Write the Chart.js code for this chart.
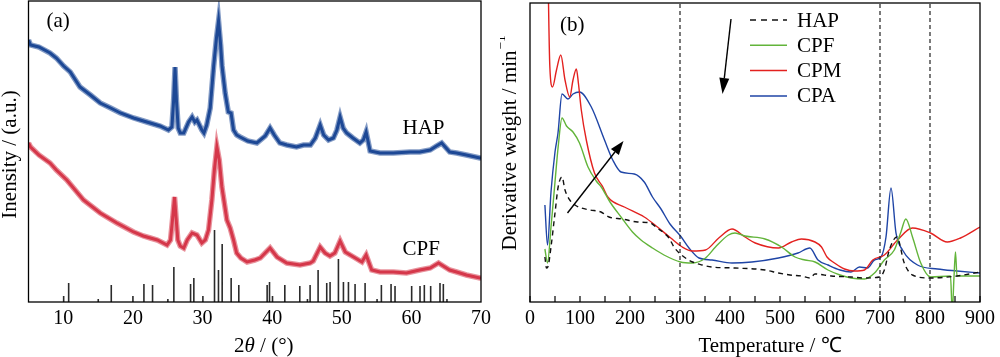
<!DOCTYPE html>
<html><head><meta charset="utf-8">
<script src="https://cdn.jsdelivr.net/npm/chart.js@4.4.0/dist/chart.umd.min.js"></script>
<style>
html,body{margin:0;padding:0;background:#fff;width:1000px;height:357px;overflow:hidden}
#wa{position:absolute;left:0;top:0;width:500px;height:357px}
#wb{position:absolute;left:500px;top:0;width:500px;height:357px}
</style></head><body>
<div id="wa"><canvas id="ca" width="500" height="357"></canvas></div>
<div id="wb"><canvas id="cb" width="500" height="357"></canvas></div>
<script>
// ---------- Panel (a): XRD ----------
const ticksA = [10, 20, 30, 40, 50, 60, 70];
const thetaHAP = [5.0,5.3,6.5,8.1,9.0,10.05,11.0,12.4,13.9,15.3,16.8,18.2,20.1,22.0,23.9,25.1,25.6,25.85,26.05,26.25,26.5,26.8,27.3,28.0,28.5,28.9,29.2,29.9,30.2,30.6,31.1,31.6,32.0,32.3,32.6,32.8,33.25,33.7,34.1,34.45,34.9,35.4,36.5,37.8,39.0,39.7,40.3,41.1,42.1,43.5,44.5,45.5,46.2,46.9,47.4,48.1,48.8,49.3,49.76,50.2,50.7,51.6,52.6,53.1,53.5,54.07,55.5,57.4,59.8,61.2,62.7,63.6,64.35,65.5,66.5,67.9,69.85,70];
const intHAP = [262,257,255,249,244,236,230,215,207,199,194,189,184,180,176,172,175,202,235,202,174,169,169,180,185,180,182,172,169,177,194,236,264,281,257,236,209,190,189,172,167,165,161,159,166,174,167,159,157,155,157,157,164,177,167,162,164,172,185,174,169,164,159,162,170,151,149,149,150,150,152,156,159,150,149,147,144,144];
const thetaCPF = [5.0,5.3,6.5,8.1,9.0,10.5,12.9,15.3,17.7,20.1,21.5,22.5,23.5,24.9,25.4,25.75,25.98,26.2,26.45,26.8,27.3,27.8,28.5,29.2,29.9,30.4,30.86,31.34,31.7,32.06,32.4,32.78,33.5,33.97,34.45,34.9,35.5,36.4,37.5,38.3,39.7,40.7,42.1,44.0,45.45,45.9,46.9,47.6,48.3,49.0,49.76,50.5,51.7,52.9,53.5,54.3,55.5,57.4,59.3,61.2,62.7,63.9,64.35,65.5,66.5,67.9,69.85,70];
const intCPF = [159,155,147,139,132,122,102,89,79,70,66,64,62,57,62,87,105,84,62,56,54,62,69,67,59,62,72,102,132,155,142,115,82,74,62,49,44,40,42,44,54,45,39,37,39,41,55,49,46,49,61,50,45,40,47,32,30,30,29,32,34,39,37,32,30,27,24,24];
const stickPos = [10.05,10.77,15.02,16.89,20.0,21.58,22.82,25.02,25.88,28.28,28.75,30.05,31.72,32.29,32.82,34.11,35.21,39.28,39.62,40.05,41.82,43.97,45.07,45.45,46.60,47.84,48.32,49.52,50.24,50.96,51.91,53.35,55.07,55.69,57.08,57.65,60.04,61.24,61.86,62.77,64.11,64.59,65.11];
const stickH   = [6,19,3,17,6,18,17,3,35,18,24,6,72,32,58,24,17,17,20,6,17,16,3,17,32,19,20,43,20,20,18,19,3,17,18,16,16,16,17,16,19,18,3];

// ---------- Panel (b): DTG ----------
const ticksB = [0,100,200,300,400,500,600,700,800,900];
const minorTicksB = [0,50,100,150,200,250,300,350,400,450,500,550,600,650,700,750,800,850,900];
const refLines = [300, 700, 800];
const seriesNames = ['HAP','CPF','CPM','CPA'];
const tHAP = [29.8,33,36.4,42,50,56.3,64,70,79.5,90,102.6,120,142,158,185,215,241,254,268,278,288,303,325,344,364,410,470,497,520,543,560,570,603,642,669,699,708.7,718.6,733.8,748.5,765,801,854,900];
const dHAP = [45,34,36,55,89,115,125,112,102,97,94,92,90,85,83,80,79,74,69,64,55,47,40,37,35,34,32,29,27,26,24,28,26,25,24,25,32,52,65,39,27,24,26,30];
const tCPF = [29.8,35,42,50,56.3,64,73,86,99,116,132.5,142.5,160,182,205,222,245,268,301,325,351,371,397,410,430,470,503,530,550,570,596,620,642,669,689,708.7,728.6,741.8,751.7,765,781.5,801,841,844.5,848,851,854,900];
const dCPF = [53,39,75,120,155,184,176,170,159,135,121,115,100,85,70,62,54,47,40,39,44,55,67,69,66,63,55,45,42,40,32,27,24,23,29,42,52,70,83,65,39,25,26,-10,25,50,26,26];
const tCPM = [34,36.4,39.7,45,53,61.6,70,79.5,86,92.7,97,102.6,112.6,129,145.7,155.6,188.7,228.5,255,281.5,304.6,325,351,377.5,404,430,450.5,497,523,543,570,583,594,609,629,649,669,685.5,708.7,735,765,801,834.5,861,900];
const dCPM = [420,320,235,215,232,247,222,205,222,233,218,192,162,129,115,105,95,85,75,64,55,51,52,64,73,65,59,54,60,63,60,55,45,39,33,31,32,42,47,62,74,69,60,64,75];
const tCPA = [29.8,35,42,50,56,64,76,86,99,122.6,149,165.5,182,208.6,228.5,245,262,280,301,318,338,364,404,443.7,497,536,559.6,576,596,620,642,659,675,689,702,712,722,732,745,775,815,854,900];
const dCPA = [97,57,110,150,169,208,203,208,210,195,162,142,130,128,120,105,93,78,66,54,44,42,39,40,44,49,54,42,37,32,30,35,34,42,45,65,114,69,52,37,33,31,29];
const arrowUp = [[75,89],[187,161]];
const arrowDown = [[402,283],[385,208]];

const FONT = '"Liberation Serif", "Times New Roman", serif';
Chart.defaults.font.family = FONT;
Chart.defaults.color = '#000';

const xy = (xs, ys) => xs.map((x, i) => ({x: x, y: ys[i]}));

function boxPlugin(w) {
  return { id: 'box', afterDatasetsDraw(chart) {
    const a = chart.chartArea, c = chart.ctx;
    c.save(); c.strokeStyle = '#000'; c.lineWidth = w;
    c.strokeRect(a.left, a.top, a.right - a.left, a.bottom - a.top);
    c.restore();
  }};
}

function drawArrow(c, x1, y1, x2, y2, hl, hw) {
  const ang = Math.atan2(y2 - y1, x2 - x1);
  const bx = x2 - hl * Math.cos(ang), by = y2 - hl * Math.sin(ang);
  c.beginPath(); c.moveTo(x1, y1); c.lineTo(bx, by); c.stroke();
  c.beginPath(); c.moveTo(x2, y2);
  c.lineTo(bx + hw/2 * Math.sin(ang), by - hw/2 * Math.cos(ang));
  c.lineTo(bx - hw/2 * Math.sin(ang), by + hw/2 * Math.cos(ang));
  c.closePath(); c.fill();
}

// ----- chart A -----
const stickData = [];
stickPos.forEach((p, i) => { stickData.push({x: p, y: 0}, {x: p, y: stickH[i]}, {x: p, y: null}); });
const blueA = '#1d4795', redA = '#d5364a';
const lineBase = {type: 'line', pointRadius: 0, fill: false, tension: 0, spanGaps: false};

new Chart(document.getElementById('ca'), {
  type: 'line',
  data: { datasets: [
    Object.assign({}, lineBase, {data: stickData, borderColor: '#2b2b2b', borderWidth: 1.6}),
    Object.assign({}, lineBase, {data: xy(thetaHAP, intHAP), borderColor: 'rgba(30,72,150,0.55)', borderWidth: 5.5}),
    Object.assign({}, lineBase, {data: xy(thetaHAP, intHAP), borderColor: blueA, borderWidth: 3}),
    Object.assign({}, lineBase, {data: xy(thetaCPF, intCPF), borderColor: 'rgba(214,56,74,0.55)', borderWidth: 5.5}),
    Object.assign({}, lineBase, {data: xy(thetaCPF, intCPF), borderColor: redA, borderWidth: 3})
  ]},
  options: {
    responsive: false, animation: false, devicePixelRatio: 1,
    layout: {padding: {left: 0, right: 19, top: 1, bottom: 0}},
    plugins: {legend: {display: false}, tooltip: {enabled: false}},
    scales: {
      x: {type: 'linear', min: 5, max: 70,
          afterBuildTicks: s => { s.ticks = ticksA.map(v => ({value: v})); },
          grid: {display: false, drawTicks: false}, border: {display: false},
          ticks: {font: {size: 20}, padding: 5, maxRotation: 0, autoSkip: false, color: '#000'},
          afterFit: s => { s.height = 55; }},
      y: {type: 'linear', min: 0, max: 301, ticks: {display: false},
          grid: {display: false, drawTicks: false}, border: {display: false},
          afterFit: s => { s.width = 28.5; }}
    }
  },
  plugins: [boxPlugin(1.3), {
    id: 'textA', afterDraw(chart) {
      const c = chart.ctx, a = chart.chartArea;
      c.save(); c.fillStyle = '#000';
      c.font = '21px ' + FONT; c.textBaseline = 'middle'; c.textAlign = 'left';
      c.fillText('(a)', a.left + 18, a.top + 20);
      c.fillText('HAP', a.left + 374, a.top + 127);
      c.fillText('CPF', a.left + 374, a.top + 248);
      // y title
      c.save(); c.translate(10.5, (a.top + a.bottom) / 2 + 3); c.rotate(-Math.PI / 2);
      c.textAlign = 'center'; c.fillText('Inensity / (a.u.)', 0, 0); c.restore();
      // x title: 2θ / (°)
      c.textBaseline = 'alphabetic';
      const parts = [['2', '21px ' + FONT], ['\u03B8', 'italic 21px ' + FONT], [' / (\u00B0)', '21px ' + FONT]];
      let tw = 0; parts.forEach(p => { c.font = p[1]; tw += c.measureText(p[0]).width; });
      let x = (a.left + a.right) / 2 + 9 - tw / 2;
      parts.forEach(p => { c.font = p[1]; c.fillText(p[0], x, 352); x += c.measureText(p[0]).width; });
      c.restore();
    }
  }]
});

// ----- chart B -----
const colB = {HAP: '#111111', CPF: '#62b43a', CPM: '#e3211f', CPA: '#1f45a6'};
const curveBase = {type: 'line', pointRadius: 0, fill: false, cubicInterpolationMode: 'monotone', borderWidth: 1.4};
const dsB = [];
refLines.forEach(v => dsB.push({type: 'line', pointRadius: 0, fill: false, data: [{x: v, y: 0}, {x: v, y: 299}], borderColor: '#222', borderWidth: 1.2, borderDash: [4, 3]}));
dsB.push(Object.assign({}, curveBase, {label: 'HAP', data: xy(tHAP, dHAP), borderColor: colB.HAP, borderDash: [5, 4]}));
dsB.push(Object.assign({}, curveBase, {label: 'CPF', data: xy(tCPF, dCPF), borderColor: colB.CPF}));
dsB.push(Object.assign({}, curveBase, {label: 'CPM', data: xy(tCPM, dCPM), borderColor: colB.CPM}));
dsB.push(Object.assign({}, curveBase, {label: 'CPA', data: xy(tCPA, dCPA), borderColor: colB.CPA}));

new Chart(document.getElementById('cb'), {
  type: 'line',
  data: {datasets: dsB},
  options: {
    responsive: false, animation: false, devicePixelRatio: 1,
    layout: {padding: {left: 0, right: 17, top: 3, bottom: 0}},
    plugins: {legend: {display: false}, tooltip: {enabled: false}},
    scales: {
      x: {type: 'linear', min: 0, max: 900,
          afterBuildTicks: s => { s.ticks = ticksB.map(v => ({value: v})); },
          grid: {display: false, drawTicks: false}, border: {display: false},
          ticks: {font: {size: 20}, padding: 5, maxRotation: 0, autoSkip: false, color: '#000'},
          afterFit: s => { s.height = 55; }},
      y: {type: 'linear', min: 0, max: 299, ticks: {display: false},
          grid: {display: false, drawTicks: false}, border: {display: false},
          afterFit: s => { s.width = 30; }}
    }
  },
  plugins: [boxPlugin(1.3), {
    id: 'annB', afterDraw(chart) {
      const c = chart.ctx, a = chart.chartArea, sx = chart.scales.x, sy = chart.scales.y;
      c.save();
      // inside minor ticks
      c.strokeStyle = '#000'; c.lineWidth = 1.2;
      minorTicksB.forEach(t => { const px = sx.getPixelForValue(t); c.beginPath(); c.moveTo(px, a.bottom); c.lineTo(px, a.bottom - 6); c.stroke(); });
      // arrows
      c.fillStyle = '#000'; c.lineWidth = 1.4;
      drawArrow(c, sx.getPixelForValue(arrowUp[0][0]), sy.getPixelForValue(arrowUp[0][1]), sx.getPixelForValue(arrowUp[1][0]), sy.getPixelForValue(arrowUp[1][1]), 14, 10);
      drawArrow(c, sx.getPixelForValue(arrowDown[0][0]), sy.getPixelForValue(arrowDown[0][1]), sx.getPixelForValue(arrowDown[1][0]), sy.getPixelForValue(arrowDown[1][1]), 16, 10);
      // legend
      c.font = '21px ' + FONT; c.textBaseline = 'middle'; c.textAlign = 'left';
      seriesNames.forEach((n, i) => {
        const ds = chart.data.datasets.find(d => d.label === n);
        const yy = a.top + 17 + i * 25.3;
        c.strokeStyle = ds.borderColor; c.lineWidth = 1.5; c.setLineDash(ds.borderDash ? [6, 5] : []);
        c.beginPath(); c.moveTo(a.left + 220, yy); c.lineTo(a.left + 257, yy); c.stroke();
        c.setLineDash([]); c.fillStyle = '#000'; c.fillText(n, a.left + 267, yy + 1);
      });
      c.fillText('(b)', a.left + 30, a.top + 22);
      // y title with superscript
      c.save(); c.translate(10, 143.5); c.rotate(-Math.PI / 2);
      const main = 'Derivative weight / min', sup = '\u22121';
      c.font = '21px ' + FONT; const w1 = c.measureText(main).width;
      c.font = '13px ' + FONT; const w2 = c.measureText(sup).width;
      const x0 = -(w1 + w2) / 2;
      c.font = '21px ' + FONT; c.fillText(main, x0, 0);
      c.font = '13px ' + FONT; c.fillText(sup, x0 + w1 + 1, -8);
      c.restore();
      // x title
      c.font = '21px ' + FONT; c.textAlign = 'center'; c.textBaseline = 'alphabetic';
      c.fillText('Temperature / \u2103', (a.left + a.right) / 2 + 15, 352);
      c.restore();
    }
  }]
});
</script></body></html>
